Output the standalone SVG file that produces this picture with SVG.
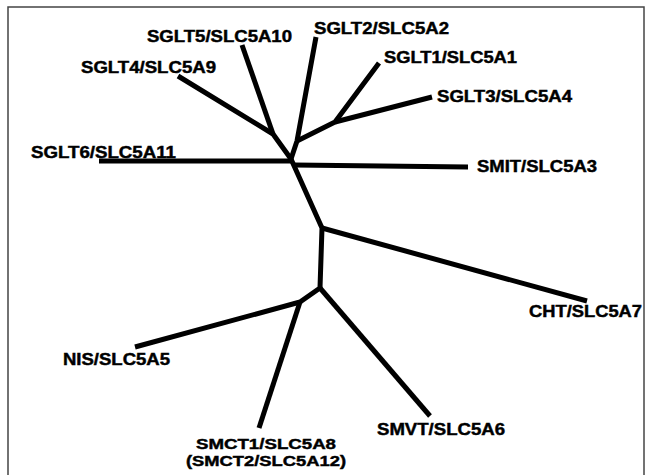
<svg xmlns="http://www.w3.org/2000/svg" width="647" height="475" viewBox="0 0 647 475">
<style>
.lbl{font-family:"Liberation Sans",Arial,sans-serif;font-weight:bold;font-size:16.5px;fill:#000;stroke:#000;stroke-width:0.45}
.sm{font-size:15.5px}
.br{fill:none;stroke:#000;stroke-width:5;stroke-linecap:butt;stroke-linejoin:round}
</style>
<rect x="0" y="0" width="647" height="475" fill="#fff"/>
<rect x="8" y="7" width="636" height="480" fill="none" stroke="#444" stroke-width="1.5"/>
<g id="connectors">
<path class="br" d="M178,76 L273,134 L291,159"/>
<path class="br" d="M242,45 L273,134"/>
<path class="br" d="M316,37 L297,141 L291,159"/>
<path class="br" d="M297,141 L335,122 L379,63"/>
<path class="br" d="M335,122 L432,97"/>
<path class="br" d="M99,161 L293,161"/>
<path class="br" d="M294,165 L468,167"/>
<path class="br" d="M291,159 L322,228 L320,288 L300,302 L135,347"/>
<path class="br" d="M322,228 L587,301"/>
<path class="br" d="M320,288 L430,416"/>
<path class="br" d="M300,302 L259,428"/>
</g>
<g id="sglt5"><text class="lbl" x="147" y="42" textLength="145" lengthAdjust="spacingAndGlyphs">SGLT5/SLC5A10</text></g>
<g id="sglt4"><text class="lbl" x="81" y="73" textLength="135" lengthAdjust="spacingAndGlyphs">SGLT4/SLC5A9</text></g>
<g id="sglt2"><text class="lbl" x="314" y="34" textLength="135" lengthAdjust="spacingAndGlyphs">SGLT2/SLC5A2</text></g>
<g id="sglt1"><text class="lbl" x="384" y="63" textLength="133" lengthAdjust="spacingAndGlyphs">SGLT1/SLC5A1</text></g>
<g id="sglt3"><text class="lbl" x="437" y="102" textLength="135" lengthAdjust="spacingAndGlyphs">SGLT3/SLC5A4</text></g>
<g id="sglt6"><text class="lbl" x="31" y="158" textLength="145" lengthAdjust="spacingAndGlyphs">SGLT6/SLC5A11</text></g>
<g id="smit"><text class="lbl" x="477" y="172" textLength="120" lengthAdjust="spacingAndGlyphs">SMIT/SLC5A3</text></g>
<g id="cht"><text class="lbl" x="529" y="317" textLength="113" lengthAdjust="spacingAndGlyphs">CHT/SLC5A7</text></g>
<g id="smvt"><text class="lbl" x="377" y="435" textLength="128" lengthAdjust="spacingAndGlyphs">SMVT/SLC5A6</text></g>
<g id="nis"><text class="lbl" x="63" y="365" textLength="107" lengthAdjust="spacingAndGlyphs">NIS/SLC5A5</text></g>
<g id="smct1">
<text class="lbl sm" x="266" y="449" text-anchor="middle" textLength="140" lengthAdjust="spacingAndGlyphs">SMCT1/SLC5A8</text>
<text class="lbl sm" x="266" y="466" text-anchor="middle" textLength="160" lengthAdjust="spacingAndGlyphs">(SMCT2/SLC5A12)</text>
</g>
</svg>
